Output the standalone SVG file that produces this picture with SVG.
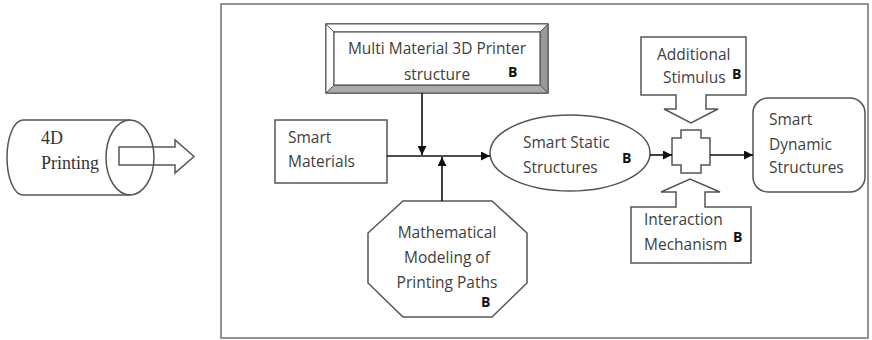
<svg xmlns="http://www.w3.org/2000/svg" width="872" height="340" viewBox="0 0 872 340">
<defs>
<marker id="ah" viewBox="0 0 10 10" refX="10" refY="5" markerWidth="9" markerHeight="9" markerUnits="userSpaceOnUse" orient="auto">
<path d="M0,0 L10,5 L0,10 z" fill="#111"/>
</marker>
<style>
.shape{fill:#fff;stroke:#555;stroke-width:1.5}
.t{font-family:"Open Sans","Liberation Sans",sans-serif;font-size:15.5px;fill:#404040}
.b{font-family:"Open Sans","Liberation Sans",sans-serif;font-size:14px;font-weight:bold;fill:#111}
.serif{font-family:"Liberation Serif","DejaVu Serif",serif;font-size:18px;fill:#333}
.conn{stroke:#111;stroke-width:1.6;fill:none;marker-end:url(#ah)}
</style>
</defs>
<rect width="872" height="340" fill="#fff"/>
<rect x="221" y="4" width="647" height="334" fill="none" stroke="#888" stroke-width="1.8"/>

<g id="printing4d">
<polygon class="shape" points="119,147 175,147 175,140 194,156.5 175,173 175,165 119,165"/>
<path d="M130,120 L23,120 A16,37.5 0 0 0 23,195 L130,195" fill="none" stroke="#555" stroke-width="1.5"/>
<ellipse cx="130" cy="157.5" rx="24" ry="37.5" fill="none" stroke="#555" stroke-width="1.5"/>
<text class="serif" x="41" y="144">4D</text>
<text class="serif" x="41" y="169">Printing</text>
</g>

<g id="multimaterial">
<rect x="326" y="24" width="222" height="69" fill="#fff" stroke="#555" stroke-width="1.5"/>
<polygon points="326,93 334,85 540,85 548,93" fill="#aaa" stroke="#555" stroke-width="1"/>
<polygon points="548,24 540,32 540,85 548,93" fill="#999" stroke="#555" stroke-width="1"/>
<polygon points="326,24 334,32 540,32 548,24" fill="#fff" stroke="#555" stroke-width="1"/>
<polygon points="326,24 334,32 334,85 326,93" fill="#fff" stroke="#555" stroke-width="1"/>
<rect x="334" y="32" width="206" height="53" fill="#fff" stroke="#555" stroke-width="1.2"/>
<text class="t" x="437" y="54" text-anchor="middle">Multi Material 3D Printer</text>
<text class="t" x="437" y="80" text-anchor="middle">structure</text>
<text class="b" x="508" y="77">B</text>
</g>

<g id="smartmaterials">
<rect class="shape" x="275" y="120" width="112" height="63"/>
<text class="t" x="288" y="143">Smart</text>
<text class="t" x="288" y="167">Materials</text>
</g>

<g id="mathmodeling">
<polygon class="shape" points="403,201 492,201 527,233 527,283 492,317 403,317 368,283 368,233"/>
<text class="t" x="447" y="238" text-anchor="middle">Mathematical</text>
<text class="t" x="447" y="263" text-anchor="middle">Modeling of</text>
<text class="t" x="447" y="288" text-anchor="middle">Printing Paths</text>
<text class="b" x="481" y="307">B</text>
</g>

<g id="smartstatic">
<ellipse class="shape" cx="570" cy="153" rx="80" ry="38"/>
<text class="t" x="523" y="148">Smart Static</text>
<text class="t" x="523" y="173">Structures</text>
<text class="b" x="622" y="163">B</text>
</g>

<g id="stimulus">
<polygon class="shape" points="641,37 746,37 746,95 706,95 706,109 718,109 691,123 664,109 676,109 676,95 641,95"/>
<text class="t" x="657" y="60">Additional</text>
<text class="t" x="663" y="83">Stimulus</text>
<text class="b" x="732" y="79">B</text>
</g>

<g id="combiner">
<polygon class="shape" points="681,130 701,130 701,138 710,138 710,165 701,165 701,173 681,173 681,165 672,165 672,138 681,138"/>
</g>

<g id="interaction">
<polygon class="shape" points="631,207 676,207 676,192 661,192 690,179 720,192 705,192 705,207 751,207 751,263 631,263"/>
<text class="t" x="644" y="225">Interaction</text>
<text class="t" x="644" y="250">Mechanism</text>
<text class="b" x="733" y="242">B</text>
</g>

<g id="smartdynamic">
<rect class="shape" x="753" y="98" width="112" height="94" rx="15" ry="15"/>
<text class="t" x="769" y="125">Smart</text>
<text class="t" x="769" y="150">Dynamic</text>
<text class="t" x="769" y="173">Structures</text>
</g>

<g id="connectors">
<line class="conn" x1="422" y1="93" x2="422" y2="155"/>
<line class="conn" x1="387" y1="156" x2="490" y2="156"/>
<line class="conn" x1="442" y1="201" x2="442" y2="157"/>
<line class="conn" x1="650" y1="155" x2="672" y2="155"/>
<line class="conn" x1="710" y1="155" x2="753" y2="155"/>
</g>
</svg>
